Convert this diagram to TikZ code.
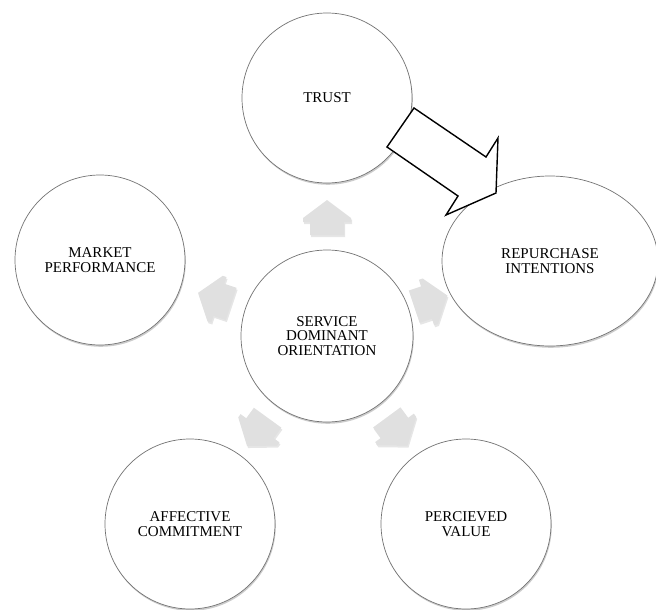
\documentclass[tikz,border=0pt]{standalone}
\usepackage{fontspec}
\setmainfont{Liberation Serif}
\usetikzlibrary{shapes.geometric,shadows}
\begin{document}
\begin{tikzpicture}[x=1pt,y=1pt,
  bubble/.style={circle, draw=black!55, line width=0.7pt, fill=white,
    minimum size=170pt, inner sep=0pt, align=center,
    font=\fontsize{15}{14.8}\selectfont,
    drop shadow={opacity=0.4, shadow xshift=0.8pt, shadow yshift=-1.8pt}},
  bigarr/.style={fill=white, draw=black, line width=1.4pt, line join=miter},
  smallarr/.pic={\fill[black!12, drop shadow={opacity=0.2, shadow xshift=1pt, shadow yshift=-2pt}]
    (101,-17) -- (114,-17) -- (114,-24) -- (118,-24) -- (136,0) -- (118,24)
    -- (114,24) -- (114,17) -- (101,17) -- cycle;}
]
\useasboundingbox (0,0) rectangle (656,-610);
\node[bubble] (trust) at (327,-98) {TRUST};
\node[bubble] (market) at (100,-260) {MARKET\\PERFORMANCE};
\node[bubble, minimum size=172pt] (sdo) at (327,-336) {SERVICE\\DOMINANT\\ORIENTATION};
\node[bubble] (aff) at (190,-524) {AFFECTIVE\\COMMITMENT};
\node[bubble] (perc) at (466,-524) {PERCIEVED\\VALUE};
\node[bubble, ellipse, minimum width=216pt, minimum height=170pt] (rep) at (550,-261) {REPURCHASE\\INTENTIONS};

\pic[rotate=90] (a1) at (sdo.center) {smallarr};
\pic[rotate=161.5] (a2) at (sdo.center) {smallarr};
\pic[rotate=18.6, xshift=-9pt] (a3) at (sdo.center) {smallarr};
\pic[rotate=234] (a4) at (sdo.center) {smallarr};
\pic[rotate=306.3] (a5) at (sdo.center) {smallarr};

\draw[bigarr] (414,-108) -- (387,-147) -- (458,-196) -- (446,-215) -- (496,-193)
  -- (498,-138) -- (486,-157) -- cycle;
\end{tikzpicture}
\end{document}
